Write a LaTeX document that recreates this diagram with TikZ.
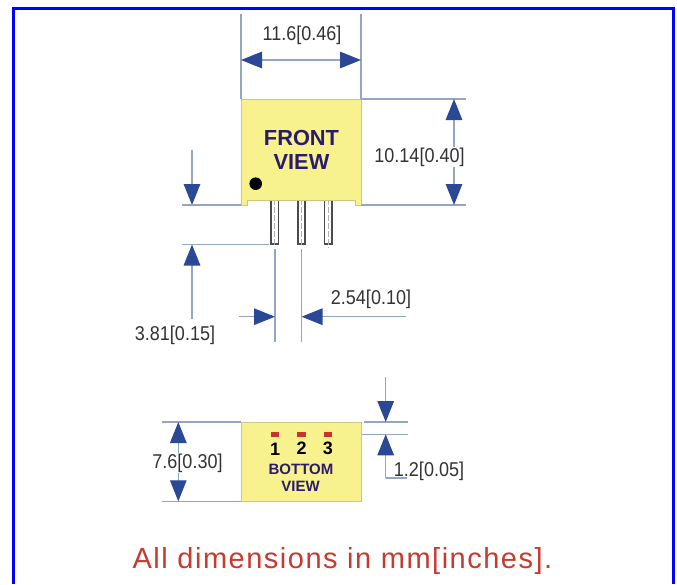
\documentclass[tikz,border=0pt]{standalone}
\usepackage{fontspec}
\setmainfont{Liberation Sans}
\newfontfamily\dimfont[FakeStretch=0.9]{Liberation Sans}
\newfontfamily\notefont[LetterSpace=5.2]{Liberation Sans}
\usetikzlibrary{arrows.meta}
\definecolor{frameblue}{HTML}{0000FF}
\definecolor{dimline}{HTML}{95A5C4}
\definecolor{dimarrow}{HTML}{2A4896}
\definecolor{bodyyellow}{HTML}{F8F28E}
\definecolor{bodyedge}{HTML}{C9C68A}
\definecolor{navytext}{HTML}{2B1B6E}
\definecolor{redtext}{HTML}{C63A30}
\definecolor{padred}{HTML}{C8352A}
\tikzset{
  dimrule/.style={draw=dimline,line width=1.3pt},
  dimtip/.style={dimrule,-{Triangle[length=21pt,width=16.5pt,color=dimarrow]}},
  dimtips/.style={dimrule,{Triangle[length=21pt,width=16.5pt,color=dimarrow]}-{Triangle[length=21pt,width=16.5pt,color=dimarrow]}},
  dimtext/.style={font=\dimfont\fontsize{20}{20}\selectfont,text=black!80,fill=white,inner sep=1pt},
  plaintext/.style={dimtext,fill=none},
  bodybox/.style={fill=bodyyellow,draw=bodyedge,line width=0.8pt},
  pinbox/.style={draw=black!70,fill=white,line width=1.7pt,inner sep=0pt,minimum width=7.4pt,minimum height=43.5pt},
  pinaxis/.style={draw=gray!60,line width=0.9pt,dash pattern=on 6pt off 2pt},
  padbox/.style={fill=padred,draw=none,inner sep=0pt,minimum width=8.5pt,minimum height=5.5pt},
  headtext/.style={font=\bfseries\fontsize{21.8}{22}\selectfont,text=navytext,inner sep=0pt},
  subtext/.style={font=\bfseries\fontsize{15}{15}\selectfont,text=navytext,inner sep=0pt},
  numtext/.style={font=\bfseries\fontsize{18}{18}\selectfont,text=black,inner sep=0pt},
}
\begin{document}
\begin{tikzpicture}[x=1pt,y=-1pt]
\useasboundingbox (0,0) rectangle (677,584);
\fill[white] (0,0) rectangle (677,584);
\draw[frameblue,line width=3pt] (13.5,584) -- (13.5,8.5) -- (673.5,8.5) -- (673.5,584);

% free-end coordinates
\coordinate (tl) at (241,14); \coordinate (tr) at (361,14);
\coordinate (tlb) at (241,99); \coordinate (trb) at (361,99);
\coordinate (wl) at (241,60); \coordinate (wr) at (361,60);
\coordinate (rt) at (466,99); \coordinate (rb) at (466,205); \coordinate (rbs) at (361,205);
\coordinate (ht) at (454,99); \coordinate (hb) at (454,205);
\coordinate (lt) at (192,150); \coordinate (lm1) at (192,205); \coordinate (lm2) at (192,244.5); \coordinate (lb) at (192,319);
\coordinate (le1) at (182,205); \coordinate (le1e) at (241,205);
\coordinate (le2) at (182,244.5); \coordinate (le2e) at (269,244.5);
\coordinate (p1t) at (275,249); \coordinate (p1b) at (275,342);
\coordinate (p2t) at (301.5,249); \coordinate (p2b) at (301.5,342);
\coordinate (pl) at (239,316.7); \coordinate (pla) at (275,316.7);
\coordinate (pr) at (406,316.7); \coordinate (pra) at (301.5,316.7);
\coordinate (bt) at (178.3,422); \coordinate (bb) at (178.3,501.3);
\coordinate (bl1) at (162,422); \coordinate (bl1e) at (241,422);
\coordinate (bl2) at (162,501.3); \coordinate (bl2e) at (241,501.3);
\coordinate (br1s) at (364,422); \coordinate (br1) at (408,422);
\coordinate (br2s) at (362,434.3); \coordinate (br2) at (408,434.3);
\coordinate (st) at (385.7,377); \coordinate (sa) at (385.7,422);
\coordinate (sb) at (385.7,434.3); \coordinate (sc) at (385.7,478); \coordinate (sd) at (407,478);

% pins
\node[pinbox] (pin1) at (274.8,222) {};
\node[pinbox] (pin2) at (301.5,222) {};
\node[pinbox] (pin3) at (328.2,222) {};
\draw[pinaxis] (pin1.north) -- (pin1.south);
\draw[pinaxis] (pin2.north) -- (pin2.south);
\draw[pinaxis] (pin3.north) -- ([yshift=-3pt]pin3.south);

% front body
\draw[bodybox] (241,99.3) -- (361.5,99.3) -- (361.5,205) -- (355,205) -- (355,200) -- (247,200) -- (247,205) -- (241,205) -- cycle;
\fill[black] (255.7,183.7) circle (6.3pt);
\node[headtext] (front) at (301.5,138) {FRONT};
\node[headtext] (view) at (301.5,162) {VIEW};

% front dimensions
\draw[dimrule] (tl) -- (tlb);
\draw[dimrule] (tr) -- (trb);
\draw[dimtips] (wl) -- (wr);
\draw[dimrule] (trb) -- (rt);
\draw[dimrule] (rbs) -- (rb);
\draw[dimtips] (ht) -- (hb);
\draw[dimtip] (lt) -- (lm1);
\draw[dimtip] (lb) -- (lm2);
\draw[dimrule] (le1) -- (le1e);
\draw[dimrule] (le2) -- (le2e);
\draw[dimrule] (p1t) -- (p1b);
\draw[dimrule] (p2t) -- (p2b);
\draw[dimtip] (pl) -- (pla);
\draw[dimtip] (pr) -- (pra);

\node[plaintext] (w) at (302,35) {11.6[0.46]};
\node[dimtext] (h) at (419.5,157) {10.14[0.40]};
\node[plaintext] (pinlen) at (175,335) {3.81[0.15]};
\node[plaintext] (pitch) at (371,299) {2.54[0.10]};

% bottom body
\node[bodybox,minimum width=120.5pt,minimum height=79.3pt,inner sep=0pt] (bottom) at (301.25,461.65) {};
\node[padbox] (pad1) at (275.2,434.3) {};
\node[padbox] (pad2) at (301.7,434.3) {};
\node[padbox] (pad3) at (328,434.3) {};
\node[numtext] (n1) at (275.2,449.5) {1};
\node[numtext] (n2) at (301.7,448.5) {2};
\node[numtext] (n3) at (328,448.5) {3};
\node[subtext] (bot) at (301,469) {BOTTOM};
\node[subtext] (bview) at (300.5,486) {VIEW};

% bottom dimensions
\draw[dimrule] (bl1) -- (bl1e);
\draw[dimrule] (bl2) -- (bl2e);
\draw[dimtips] (bt) -- (bb);
\draw[dimrule] (br1s) -- (br1);
\draw[dimrule] (br2s) -- (br2);
\draw[dimtip] (st) -- (sa);
\draw[dimtip] (sc) -- (sb);
\draw[dimrule] (sc) -- (sd);
\node[dimtext] (bw) at (187.5,463) {7.6[0.30]};
\node[plaintext] (off) at (429,471) {1.2[0.05]};

\node[font=\notefont\fontsize{29}{29}\selectfont,text=redtext,inner sep=0pt] (note) at (342.5,561) {All dimensions in mm[inches].};
\end{tikzpicture}
\end{document}
